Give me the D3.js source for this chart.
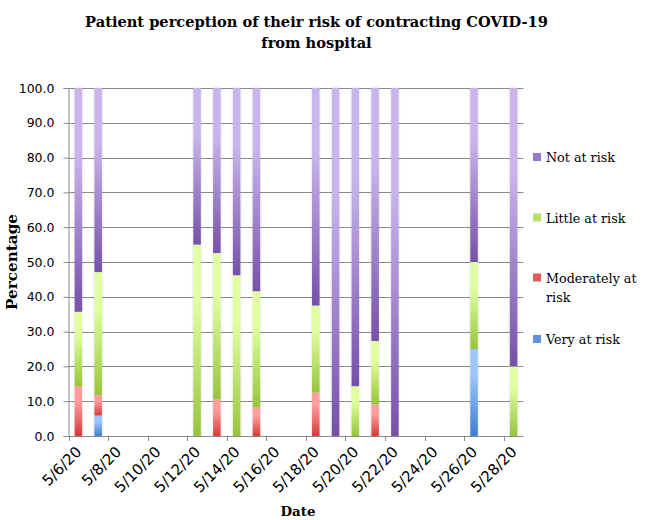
<!DOCTYPE html>
<html>
<head>
<meta charset="utf-8">
<script src="https://cdn.jsdelivr.net/npm/d3@7"></script>
<style>
  html, body { margin: 0; padding: 0; background: #fff; }
  svg { display: block; }
</style>
</head>
<body>
<svg id="chart" width="649" height="520"></svg>
<script>
// ---- data ----
const dates = ["5/6/20","5/7/20","5/8/20","5/9/20","5/10/20","5/11/20","5/12/20","5/13/20","5/14/20","5/15/20","5/16/20","5/17/20","5/18/20","5/19/20","5/20/20","5/21/20","5/22/20","5/23/20","5/24/20","5/25/20","5/26/20","5/27/20","5/28/20"];
const veryAtRisk       = [0,   5.9, 0,0,0,0, 0,    0,    0,    0,    0,0, 0,    0,   0,    0,    0,   0,0,0, 25.0, 0, 0];
const moderatelyAtRisk = [14.3,5.9, 0,0,0,0, 0,    10.5, 0,    8.3,  0,0, 12.5, 0,   0,    9.1,  0,   0,0,0, 0,    0, 0];
const littleAtRisk     = [21.4,35.3,0,0,0,0, 55.0, 42.1, 46.2, 33.3, 0,0, 25.0, 0,   14.3, 18.2, 0,   0,0,0, 25.0, 0, 20.0];
const notAtRisk        = [64.3,52.9,0,0,0,0, 45.0, 47.4, 53.8, 58.3, 0,0, 62.5, 100, 85.7, 72.7, 100, 0,0,0, 50.0, 0, 80.0];
const seriesNames = ["Very at risk","Moderately at risk","Little at risk","Not at risk"];
const yTicks = [0,10,20,30,40,50,60,70,80,90,100];
const xTickLabels = ["5/6/20","5/8/20","5/10/20","5/12/20","5/14/20","5/16/20","5/18/20","5/20/20","5/22/20","5/24/20","5/26/20","5/28/20"];

// ---- styling ----
const gradColors = {
  "Very at risk":       ["#9cc6ff", "#3b7fd4"],
  "Moderately at risk": ["#ff9e9e", "#d63a3a"],
  "Little at risk":     ["#dfffa0", "#98c43c"],
  "Not at risk":        ["#c9b5ec", "#7650a8"]
};
const legendColors = {
  "Very at risk": "#5b93e0",
  "Moderately at risk": "#e45a5a",
  "Little at risk": "#b8e06a",
  "Not at risk": "#9777c8"
};
const SERIF = "DejaVu Serif, serif";
const SANS = "DejaVu Sans, Verdana, sans-serif";

function fit(sel, target) {
  const node = sel.node();
  const fs = parseFloat(sel.attr("font-size"));
  const len = node.getComputedTextLength();
  if (len > 0) sel.attr("font-size", (fs * target / len).toFixed(2) + "px");
  return sel;
}

const svg = d3.select("#chart");
const margin = {left: 68.5, right: 125.5, top: 88, bottom: 84};
const W = 649, H = 520;
const x0 = margin.left, x1 = W - margin.right, yTop = margin.top, yBot = H - margin.bottom;

const x = d3.scaleBand().domain(dates).range([x0, x1]).paddingInner(0.62).paddingOuter(0.31);
const y = d3.scaleLinear().domain([0, 100]).range([yBot, yTop]);

const defs = svg.append("defs");
seriesNames.forEach((s, i) => {
  const g = defs.append("linearGradient").attr("id", "g" + i).attr("x1", 0).attr("y1", 0).attr("x2", 0).attr("y2", 1);
  g.append("stop").attr("offset", "0%").attr("stop-color", gradColors[s][0]);
  g.append("stop").attr("offset", "30%").attr("stop-color", gradColors[s][0]);
  g.append("stop").attr("offset", "100%").attr("stop-color", gradColors[s][1]);
});
const f = defs.append("filter").attr("id", "shadow").attr("x", "-100%").attr("y", "-5%").attr("width", "300%").attr("height", "110%");
f.append("feDropShadow").attr("dx", 0).attr("dy", 0).attr("stdDeviation", 1.2).attr("flood-color", "#000").attr("flood-opacity", 0.18);

// gridlines
svg.append("g").selectAll("line").data(yTicks.filter(d => d > 0)).join("line")
  .attr("x1", x0).attr("x2", x1)
  .attr("y1", d => Math.round(y(d)) + 0.5).attr("y2", d => Math.round(y(d)) + 0.5)
  .attr("stroke", "#8a8a8a").attr("stroke-width", 1);

// y axis
const yAxis = d3.axisLeft(y).tickValues(yTicks).tickFormat(d3.format(".1f")).tickSize(5).tickPadding(9);
const gy = svg.append("g").attr("transform", `translate(${x0},0)`).call(yAxis);
gy.select(".domain").attr("stroke", "#8a8a8a");
gy.selectAll(".tick line").attr("stroke", "#8a8a8a");
gy.selectAll("text").attr("font-family", SANS).attr("font-size", "12.5px").attr("fill", "#000");

// stacked bars
const rows = dates.map((d, i) => ({date: d, "Very at risk": veryAtRisk[i], "Moderately at risk": moderatelyAtRisk[i], "Little at risk": littleAtRisk[i], "Not at risk": notAtRisk[i]}));
const stacked = d3.stack().keys(seriesNames)(rows);
const barsG = svg.append("g").attr("filter", "url(#shadow)");
stacked.forEach((layer, i) => {
  barsG.append("g").selectAll("rect")
    .data(layer.filter(d => d[1] - d[0] > 0))
    .join("rect")
    .attr("x", d => x(d.data.date))
    .attr("width", x.bandwidth())
    .attr("y", d => y(d[1]))
    .attr("height", d => y(d[0]) - y(d[1]))
    .attr("fill", `url(#g${i})`);
});

// x axis
const tickScale = d3.scaleLinear().domain([0, dates.length]).range([x0, x1]);
const gx = svg.append("g");
gx.append("line").attr("x1", x0).attr("x2", x1).attr("y1", yBot + 0.5).attr("y2", yBot + 0.5).attr("stroke", "#8a8a8a");
gx.selectAll("line.tk").data(xTickLabels).join("line").attr("class", "tk")
  .attr("x1", d => Math.round(tickScale(dates.indexOf(d))) + 0.5)
  .attr("x2", d => Math.round(tickScale(dates.indexOf(d))) + 0.5)
  .attr("y1", yBot).attr("y2", yBot + 5).attr("stroke", "#8a8a8a");
gx.selectAll("text").data(xTickLabels).join("text")
  .attr("transform", d => `translate(${x(d) + x.bandwidth() / 2 + 0.5},${yBot + 13}) rotate(-45)`)
  .attr("text-anchor", "end")
  .attr("dy", "0.35em")
  .attr("font-family", SANS).attr("font-size", "15px")
  .text(d => d);

// titles
const title = svg.append("text").attr("text-anchor", "middle").attr("font-family", SERIF)
  .attr("font-weight", "bold").attr("font-size", "15px");
const t1 = title.append("tspan").attr("x", 316.5).attr("y", 27).text("Patient perception of their risk of contracting COVID-19");
title.append("tspan").attr("x", 316.5).attr("y", 48).text("from hospital");
{
  const len = t1.node().getComputedTextLength();
  if (len > 0) title.attr("font-size", (15 * 463 / len).toFixed(2) + "px");
}

fit(svg.append("text").attr("transform", `translate(17,${(yTop + yBot) / 2}) rotate(-90)`)
  .attr("text-anchor", "middle").attr("font-family", SERIF).attr("font-weight", "bold").attr("font-size", "15px")
  .text("Percentage"), 96);
fit(svg.append("text").attr("x", 298).attr("y", 516).attr("text-anchor", "middle")
  .attr("font-family", SERIF).attr("font-weight", "bold").attr("font-size", "15px").text("Date"), 35);

// legend
const legendItems = [
  {name: "Not at risk", lines: ["Not at risk"], y: 157},
  {name: "Little at risk", lines: ["Little at risk"], y: 217.5},
  {name: "Moderately at risk", lines: ["Moderately at", "risk"], y: 277.5},
  {name: "Very at risk", lines: ["Very at risk"], y: 339}
];
const lg = svg.append("g").attr("font-family", SERIF).attr("font-size", "13px");
legendItems.forEach(it => {
  lg.append("rect").attr("x", 533).attr("y", it.y - 4).attr("width", 8).attr("height", 8).attr("fill", legendColors[it.name]);
  const t = lg.append("text");
  it.lines.forEach((ln, k) => t.append("tspan").attr("x", 546).attr("y", it.y + 5 + k * 19.5).text(ln));
});
{
  const first = lg.select("text tspan").node();
  const len = first.getComputedTextLength();
  if (len > 0) lg.attr("font-size", (13 * 69 / len).toFixed(2) + "px");
}
</script>
</body>
</html>
